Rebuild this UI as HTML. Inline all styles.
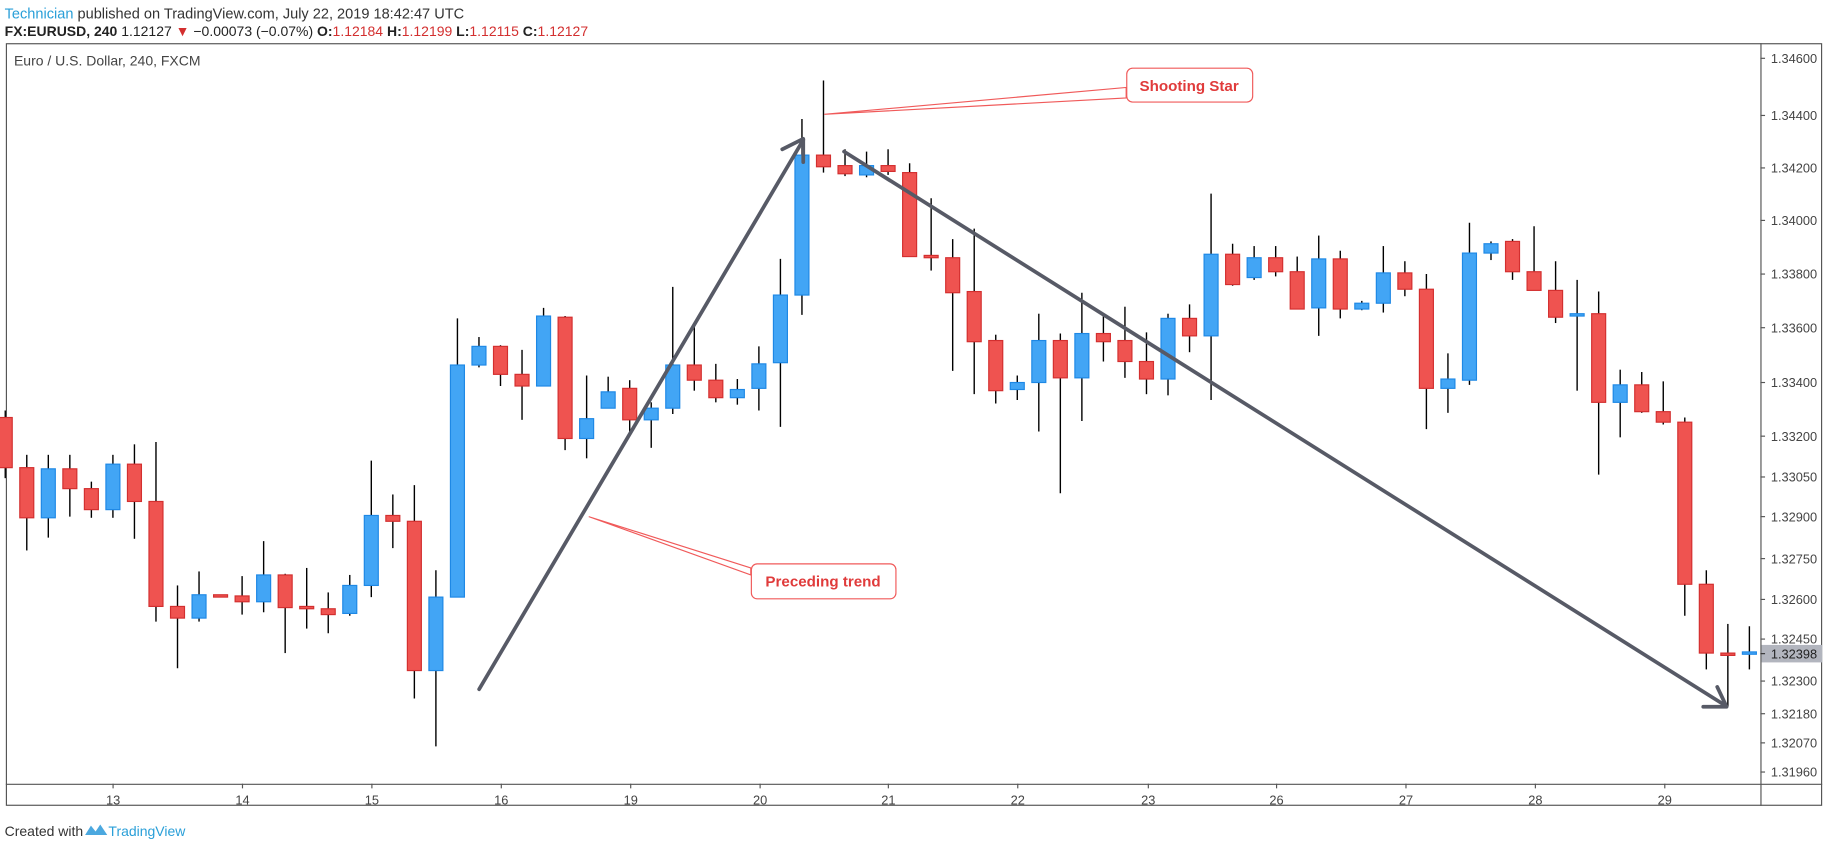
<!DOCTYPE html>
<html><head><meta charset="utf-8"><style>
html,body{margin:0;padding:0;background:#fff;overflow:hidden}
svg{display:block}
text{font-family:"Liberation Sans",sans-serif}
</style></head><body>
<svg id="s" width="1828" height="849" viewBox="0 0 1568 728" preserveAspectRatio="none" xmlns="http://www.w3.org/2000/svg">
<rect width="1568" height="728" fill="#fff"/>
<text x="4" y="16" font-size="12.5" fill="#333"><tspan fill="#2a9fd8">Technician</tspan> published on TradingView.com, July 22, 2019 18:42:47 UTC</text>
<text x="4" y="31" font-size="12" fill="#222" font-weight="bold">FX:EURUSD, 240 <tspan font-weight="normal">1.12127</tspan> <tspan fill="#d32f2f">▼</tspan> <tspan font-weight="normal">−0.00073 (−0.07%)</tspan> O:<tspan fill="#d32f2f" font-weight="normal">1.12184</tspan> H:<tspan fill="#d32f2f" font-weight="normal">1.12199</tspan> L:<tspan fill="#d32f2f" font-weight="normal">1.12115</tspan> C:<tspan fill="#d32f2f" font-weight="normal">1.12127</tspan></text>
<rect x="5.5" y="37.5" width="1557" height="653" fill="none" stroke="#555" stroke-width="1"/>
<line x1="1510.5" y1="37" x2="1510.5" y2="691" stroke="#555"/>
<line x1="5" y1="672.5" x2="1563" y2="672.5" stroke="#555"/>
<text x="12" y="56" font-size="12" fill="#444">Euro / U.S. Dollar, 240, FXCM</text>
<g id="c"></g>
<g font-size="11" fill="#444" id="ax"></g>
<rect x="1511" y="553" width="52" height="15" fill="#b2b5be"/>
<line x1="1510" y1="560.5" x2="1514" y2="560.5" stroke="#333"/>
<text x="1519" y="564.5" font-size="11" fill="#222">1.32398</text>
<g stroke="#575a66" stroke-width="3.2" fill="none" stroke-linecap="round" stroke-linejoin="round">
<line x1="411" y1="591" x2="689" y2="120"/>
<polyline points="671,128 689,119 689,139"/>
<line x1="724" y1="130" x2="1480" y2="605"/>
<polyline points="1461,606 1481,606 1473,589"/>
</g>
<g stroke="#f05a5a" stroke-width="1" fill="none">
<polyline points="707,98 966,75 966,84 707,98"/>
<polyline points="505,443 644,487 644,493 505,443"/>
</g>
<rect x="966.5" y="58.5" width="108" height="29" rx="5" fill="#fff" stroke="#f05a5a"/>
<text x="1020" y="78" font-size="13" font-weight="bold" fill="#e03b3b" text-anchor="middle">Shooting Star</text>
<rect x="644.5" y="483.5" width="124" height="30" rx="5" fill="#fff" stroke="#f05a5a"/>
<text x="706" y="503" font-size="13" font-weight="bold" fill="#e03b3b" text-anchor="middle">Preceding trend</text>
<text x="4" y="717" font-size="12" fill="#333">Created with</text>
<path d="M73,716 l5,-8 l4,5 l4,-6 l6,9z" fill="#4ba8df"/>
<text x="93" y="717" font-size="12" fill="#2a9fd8">TradingView</text>
</svg>
<script>
var C=[
['R',358,401,352,410],['R',401,444,390,472],['B',402,444,390,461],['R',402,419,390,443],['R',419,437,413,444],['B',398,437,390,444],['R',398,430,381,462],['R',430,520,379,533],['R',520,530,502,573],['B',510,530,490,533],
['R',510,512,510,512],['R',511,516,494,527],['B',493,516,464,525],['R',493,521,492,560],['R',520,522,487,539],['R',522,527,508,543],['B',502,526,493,528],['B',442,502,395,512],['R',442,447,424,470],['R',447,575,416,599],
['B',512,575,489,640],['B',313,512,273,512],['B',297,313,289,315],['R',297,321,296,331],['R',321,331,300,360],['B',271,331,264,331],['R',272,376,271,386],['B',359,376,322,393],['B',336,350,323,350],['R',333,360,326,370],
['B',350,360,345,384],['B',313,350,246,355],['R',313,326,278,335],['R',326,341,312,345],['B',334,341,325,347],['B',312,333,297,352],['B',253,311,222,366],['B',133,253,102,270],['R',133,143,69,148],['R',142,149,128,151],
['B',142,150,130,152],['R',142,147,128,150],['R',148,220,140,220],['R',219,221,170,232],['R',221,251,205,318],['R',250,293,196,338],['R',292,335,287,346],['B',328,334,322,343],['B',292,328,269,370],['R',292,324,286,423],
['B',286,324,251,361],['R',286,293,270,310],['R',292,310,263,324],['R',310,325,285,338],['B',273,325,269,339],['R',273,288,261,302],['B',218,288,166,343],['R',218,244,209,245],['B',221,238,211,240],['R',221,233,211,237],
['R',233,265,220,265],['B',222,264,202,288],['R',222,265,215,273],['B',260,265,258,266],['B',234,260,211,268],['R',234,248,224,254],['R',248,333,235,368],['B',325,333,303,354],['B',217,326,191,330],['B',209,217,207,223],
['R',207,233,205,240],['R',233,249,194,249],['R',249,272,224,277],['B',269,270,240,335],['R',269,345,250,407],['B',330,345,317,375],['R',330,353,319,354],['R',353,362,327,364],['R',362,501,358,528],['R',501,560,489,574],
['R',560,561,535,606],['B',559,561,537,574]];
var g=document.getElementById('c'),h='';
C.forEach(function(c,i){var x=4.5+i*18.47;var f=c[0]=='R'?'#ef5350':'#42a5f5',s=c[0]=='R'?'#d32f2f':'#1e88e5';
h+='<line x1="'+x+'" y1="'+c[3]+'" x2="'+x+'" y2="'+c[4]+'" stroke="#000" stroke-width="1.2"/>';
var t=Math.min(c[1],c[2]),b=Math.max(c[1],c[2]);if(b-t<2)b=t+2;
h+='<rect x="'+(x-6)+'" y="'+t+'" width="12" height="'+(b-t)+'" fill="'+f+'" stroke="'+s+'" stroke-width="1"/>';});
g.innerHTML=h;
var P=[['1.34600',50],['1.34400',99],['1.34200',144],['1.34000',189],['1.33800',235],['1.33600',281],['1.33400',328],['1.33200',374],['1.33050',409],['1.32900',443],['1.32750',479],['1.32600',514],['1.32450',548],['1.32300',584],['1.32180',612],['1.32070',637],['1.31960',662]];
var D=[['13',97],['14',208],['15',319],['16',430],['19',541],['20',652],['21',762],['22',873],['23',985],['26',1095],['27',1206],['28',1317],['29',1428]];
var a='';P.forEach(function(p){a+='<line x1="1510" y1="'+p[1]+'" x2="1514" y2="'+p[1]+'" stroke="#555"/><text x="1519" y="'+(p[1]+4)+'">'+p[0]+'</text>';});
D.forEach(function(d){a+='<line x1="'+d[1]+'" y1="672" x2="'+d[1]+'" y2="676" stroke="#555"/><text x="'+d[1]+'" y="690" text-anchor="middle">'+d[0]+'</text>';});
document.getElementById('ax').innerHTML=a;
</script>
</body></html>
